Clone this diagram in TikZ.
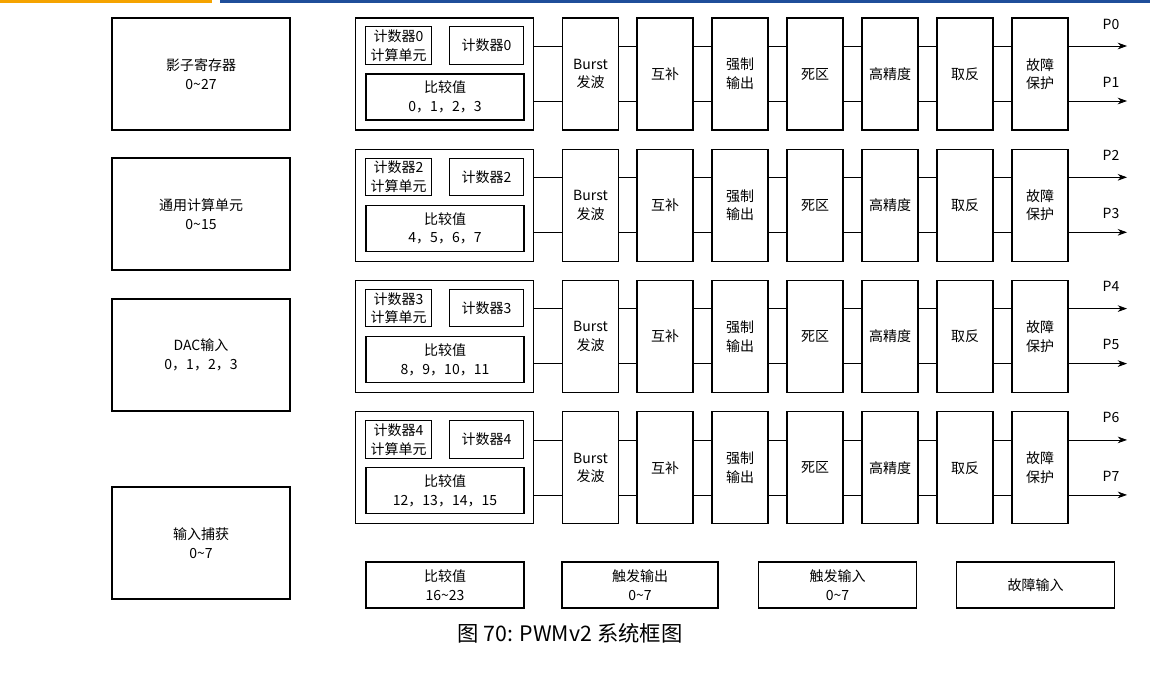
\documentclass[tikz,border=0pt]{standalone}
\usepackage{fontspec}
\setmainfont{Noto Sans CJK SC}
\usepackage{tikz}
\usepackage{xcolor}
\usetikzlibrary{arrows.meta}
\definecolor{barorange}{HTML}{F5A300}
\definecolor{barblue}{HTML}{1F4E9A}
\tikzset{
  blk/.style={draw, line width=0.8pt, inner sep=0pt, align=center,
    font=\fontsize{10.5}{14}\selectfont},
  sig/.style={line width=0.6pt},
}
\begin{document}
\begin{tikzpicture}[x=0.75pt,y=-0.75pt]
	\useasboundingbox (0,0) rectangle (1175,679);

	% header bars
	\fill[barorange] (0,0) rectangle (212,2.5);
	\fill[barblue] (220,0) rectangle (1150,2.5);

	% left blocks
	\node[blk, minimum width=133.5pt, minimum height=84pt] (shadow) at (201,74) {影子寄存器\\0\textasciitilde27};
	\node[blk, minimum width=133.5pt, minimum height=84pt] (alu) at (201,214) {通用计算单元\\0\textasciitilde15};
	\node[blk, minimum width=133.5pt, minimum height=84pt] (dac) at (201,355) {DAC输入\\0，1，2，3};
	\node[blk, minimum width=133.5pt, minimum height=84pt] (capt) at (201,543) {输入捕获\\0\textasciitilde7};

	% four channel rows
	\foreach \r/\n/\cmp/\pa/\pb in {0/0/{0，1，2，3}/P0/P1, 1/2/{4，5，6，7}/P2/P3,
	    2/3/{8，9，10，11}/P4/P5, 3/4/{12，13，14，15}/P6/P7} {
	  \pgfmathsetmacro{\t}{18+131.3*\r}
	  \node[blk, minimum width=133pt, minimum height=84pt] (grp\r) at (444.5,\t+56) {};
	  \node[blk, minimum width=49pt, minimum height=28pt] (unit\r) at (398.5,\t+27.5) {计数器\n\\计算单元};
	  \node[blk, minimum width=56pt, minimum height=28pt] (cnt\r) at (486.5,\t+27.5) {计数器\n};
	  \node[blk, minimum width=118.5pt, minimum height=34.5pt] (cmp\r) at (445,\t+79) {比较值\\\cmp};
	  \foreach \s/\x/\txt in {burst/590.5/{Burst\\发波}, comp/665/互补, force/740/{强制\\输出},
	      dead/815/死区, hr/890/高精度, inv/965/取反, fault/1040/{故障\\保护}} {
	    \node[blk, minimum width=42pt, minimum height=84pt] (\s\r) at (\x,\t+56) {\txt};
	  }
	  % signal lines
	  \foreach \y in {28,83} {
	    \draw[sig] (grp\r.east |- 0,\t+\y) -- (burst\r.west |- 0,\t+\y);
	    \foreach \a/\b in {burst/comp, comp/force, force/dead, dead/hr, hr/inv, inv/fault}
	      \draw[sig] (\a\r.east |- 0,\t+\y) -- (\b\r.west |- 0,\t+\y);
	    \coordinate (out\r-\y) at (1127,\t+\y);
	    \draw[sig, -{Stealth[length=7pt,width=5pt]}] (fault\r.east |- 0,\t+\y) -- (out\r-\y);
	  }
	  \node[font=\fontsize{10.5}{12}\selectfont] (lab\r a) at (1111,\t+6) {\pa};
	  \node[font=\fontsize{10.5}{12}\selectfont] (lab\r b) at (1111,\t+64) {\pb};
	}

	% bottom blocks
	\node[blk, minimum width=118.5pt, minimum height=34.5pt] (cmpx) at (445,585) {比较值\\16\textasciitilde23};
	\node[blk, minimum width=117pt, minimum height=34.5pt] (trgout) at (640,585) {触发输出\\0\textasciitilde7};
	\node[blk, minimum width=118pt, minimum height=34.5pt] (trgin) at (837.5,585) {触发输入\\0\textasciitilde7};
	\node[blk, minimum width=119pt, minimum height=34.5pt] (faultin) at (1035.5,585) {故障输入};

	% caption
	\node[font=\fontsize{16}{18}\selectfont] (caption) at (570,633) {图 70: PWMv2 系统框图};
\end{tikzpicture}
\end{document}
